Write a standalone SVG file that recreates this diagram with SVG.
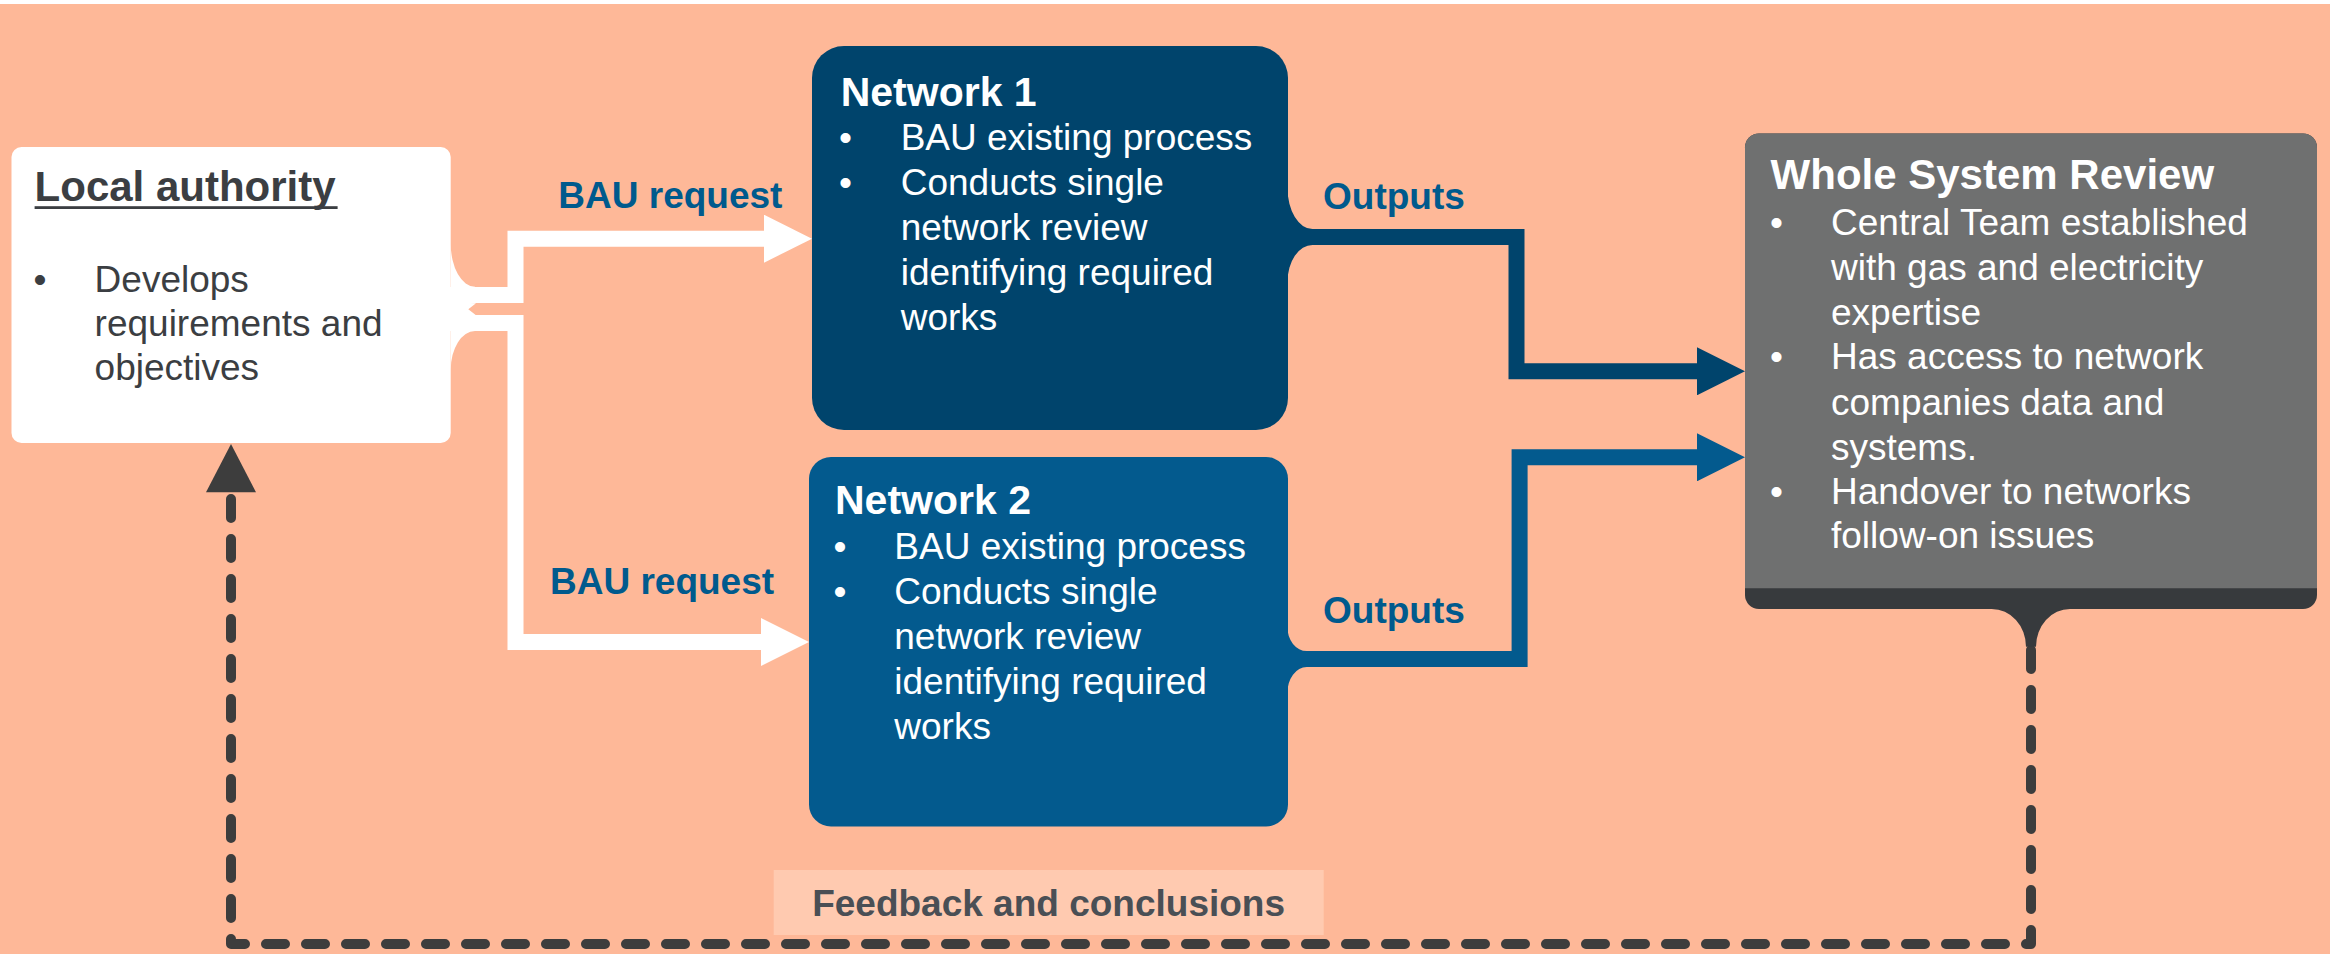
<svg xmlns="http://www.w3.org/2000/svg" width="2330" height="954" viewBox="0 0 2330 954">
  <style>
    text { font-family: "Liberation Sans", Arial, "Noto Sans", sans-serif; }
    .title { font-size: 41px; font-weight: bold; fill: #ffffff; }
    .body { font-size: 37px; fill: #ffffff; }
    .dark { fill: #3b3e42; }
    .lbl { font-size: 37px; font-weight: bold; fill: #005a8d; }
    .feed { font-size: 37px; font-weight: bold; fill: #4a4f55; }
    .req { fill: none; stroke: #ffffff; stroke-width: 16; stroke-linejoin: miter; }
    .out1 { fill: none; stroke: #00446c; stroke-width: 16; stroke-linejoin: miter; }
    .out2 { fill: none; stroke: #035a8e; stroke-width: 16; stroke-linejoin: miter; }
    .fb { fill: none; stroke: #3d3d3d; stroke-width: 10; stroke-linecap: round; stroke-linejoin: round; stroke-dasharray: 19 21; }
  </style>
  <defs>
    <marker id="head-white" viewBox="0 0 48 48" refX="0" refY="24" markerWidth="48" markerHeight="48" markerUnits="userSpaceOnUse" orient="auto">
      <path d="M0,0 L48,24 L0,48 Z" fill="#ffffff"/>
    </marker>
    <marker id="head-navy" viewBox="0 0 48 48" refX="0" refY="24" markerWidth="48" markerHeight="48" markerUnits="userSpaceOnUse" orient="auto">
      <path d="M0,0 L48,24 L0,48 Z" fill="#00446c"/>
    </marker>
    <marker id="head-blue" viewBox="0 0 48 48" refX="0" refY="24" markerWidth="48" markerHeight="48" markerUnits="userSpaceOnUse" orient="auto">
      <path d="M0,0 L48,24 L0,48 Z" fill="#035a8e"/>
    </marker>
  </defs>

  <!-- page background -->
  <rect x="0" y="0" width="2330" height="954" fill="#ffffff"/>
  <rect x="0" y="4" width="2330" height="950" fill="#feb898"/>

  <!-- connectors -->
  <g id="connectors">
    <!-- BAU requests from the local authority -->
    <path d="M450.7,243.3 A24.3,43.4 0 0 0 475,286.7 L476,295 L450.7,295 Z" fill="#ffffff"/>
    <path d="M450.7,370 A24.3,39 0 0 1 475,331 L476,323 L450.7,323 Z" fill="#ffffff"/>
    <polygon points="450,302 476,303.3 468.3,309.3 476,315.3 450,316" fill="#ffffff"/>
    <polyline class="req" points="450,295 515.5,295 515.5,238.7 764,238.7" marker-end="url(#head-white)"/>
    <polyline class="req" points="450,323 515.5,323 515.5,642 761,642" marker-end="url(#head-white)"/>
    <text class="lbl" x="558.3" y="208.3">BAU request</text>
    <text class="lbl" x="550" y="594">BAU request</text>

    <!-- outputs to the whole system review -->
    <path d="M1287.5,188 A25,41 0 0 0 1312.5,229 L1312.5,237 L1287.5,237 Z" fill="#00446c"/>
    <path d="M1287.5,282 A25,37 0 0 1 1312.5,245 L1312.5,237 L1287.5,237 Z" fill="#00446c"/>
    <path class="out1" d="M1287,237 H1516.5 V371.3 H1697" marker-end="url(#head-navy)"/>
    <path d="M1287.3,626.7 A19.4,24.3 0 0 0 1306.7,651 L1306.7,659 L1287.3,659 Z" fill="#035a8e"/>
    <path d="M1287.3,693.3 A19.4,26.3 0 0 1 1306.7,667 L1306.7,659 L1287.3,659 Z" fill="#035a8e"/>
    <path class="out2" d="M1287,659 H1519.6 V457.3 H1697" marker-end="url(#head-blue)"/>
    <text class="lbl" x="1323" y="209.3">Outputs</text>
    <text class="lbl" x="1323" y="623.3">Outputs</text>

    <!-- feedback loop back to the local authority -->
    <path class="fb" d="M2031,650 V944 H231 V492"/>
    <polygon points="206,492.3 256,492.3 231,444" fill="#3d3d3d"/>
    <rect x="773.7" y="870" width="550" height="65" fill="#ffcab0"/>
    <text class="feed" x="1048.6" y="916" text-anchor="middle">Feedback and conclusions</text>
  </g>

  <!-- local authority -->
  <g id="local-authority">
    <rect x="11.5" y="147" width="439.2" height="296" rx="10" fill="#ffffff"/>
    <text class="title dark" x="34.6" y="200.7" style="font-size:42px">Local authority</text>
    <rect x="34.6" y="206.2" width="303" height="2.8" fill="#3b3e42"/>
    <text class="body dark" x="33.5" y="291.7">•</text>
    <text class="body dark" x="94.6" y="291.7">Develops</text>
    <text class="body dark" x="94.6" y="335.5">requirements and</text>
    <text class="body dark" x="94.6" y="379.5">objectives</text>
  </g>

  <!-- network 1 -->
  <g id="network-1">
    <rect x="812" y="46" width="476" height="384" rx="32" fill="#00446c"/>
    <text class="title" x="840.7" y="106">Network 1</text>
    <text class="body" x="839" y="150">•</text>
    <text class="body" x="900.7" y="150">BAU existing process</text>
    <text class="body" x="839" y="195">•</text>
    <text class="body" x="900.7" y="195">Conducts single</text>
    <text class="body" x="900.7" y="240">network review</text>
    <text class="body" x="900.7" y="285">identifying required</text>
    <text class="body" x="900.7" y="330">works</text>
  </g>

  <!-- network 2 -->
  <g id="network-2">
    <rect x="809" y="457" width="479" height="369.5" rx="22" fill="#035a8e"/>
    <text class="title" x="835" y="514">Network 2</text>
    <text class="body" x="833.5" y="559">•</text>
    <text class="body" x="894.3" y="559">BAU existing process</text>
    <text class="body" x="833.5" y="604">•</text>
    <text class="body" x="894.3" y="604">Conducts single</text>
    <text class="body" x="894.3" y="649">network review</text>
    <text class="body" x="894.3" y="694">identifying required</text>
    <text class="body" x="894.3" y="739">works</text>
  </g>

  <!-- whole system review -->
  <g id="whole-system-review">
    <rect x="1745" y="133.5" width="572" height="475.5" rx="14" fill="#373a3d"/>
    <path d="M1745,588.3 V147.5 A14,14 0 0 1 1759,133.5 H2303 A14,14 0 0 1 2317,147.5 V588.3 Z" fill="#6f7070"/>
    <path d="M1991.7,609 A34.3,37.7 0 0 1 2026,646.7 L2036,646.7 A34,37.7 0 0 1 2070,609 Z" fill="#373a3d"/>
    <text class="title" x="1770.6" y="189.3" style="font-size:42px">Whole System Review</text>
    <text class="body" x="1770" y="235">•</text>
    <text class="body" x="1831" y="235">Central Team established</text>
    <text class="body" x="1831" y="280">with gas and electricity</text>
    <text class="body" x="1831" y="324.5">expertise</text>
    <text class="body" x="1770" y="369.3">•</text>
    <text class="body" x="1831" y="369.3">Has access to network</text>
    <text class="body" x="1831" y="415">companies data and</text>
    <text class="body" x="1831" y="460">systems.</text>
    <text class="body" x="1770" y="503.5">•</text>
    <text class="body" x="1831" y="503.5">Handover to networks</text>
    <text class="body" x="1831" y="548.3">follow-on issues</text>
  </g>
</svg>
